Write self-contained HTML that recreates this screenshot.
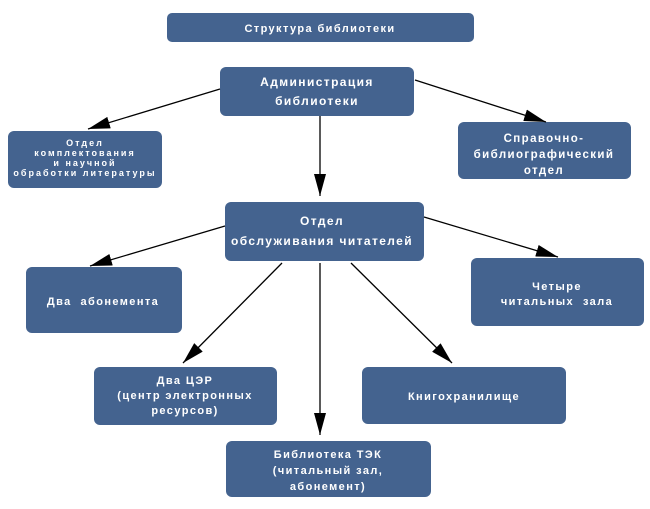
<!DOCTYPE html>
<html><head><meta charset="utf-8"><style>
html,body{margin:0;padding:0;background:#fff;width:650px;height:509px;overflow:hidden}
text{font-family:"Liberation Sans",Arial,sans-serif;font-weight:bold;fill:#fff;letter-spacing:1.4px;text-anchor:middle}
</style></head><body>
<svg width="650" height="509" viewBox="0 0 650 509" xmlns="http://www.w3.org/2000/svg">
<defs><marker id="a" viewBox="0 0 22 12" refX="22" refY="6" markerWidth="22" markerHeight="12" markerUnits="userSpaceOnUse" orient="auto"><path d="M0,0 L22,6 L0,12 z" fill="#000"/></marker></defs>
<g fill="#44638f">
<rect x="167" y="13" width="307" height="29" rx="5"/>
<rect x="220" y="67" width="194" height="49" rx="6"/>
<rect x="8" y="131" width="154" height="57" rx="6"/>
<rect x="458" y="122" width="173" height="57" rx="6"/>
<rect x="225" y="202" width="199" height="59" rx="6"/>
<rect x="26" y="267" width="156" height="66" rx="6"/>
<rect x="471" y="258" width="173" height="68" rx="6"/>
<rect x="94" y="367" width="183" height="58" rx="6"/>
<rect x="362" y="367" width="204" height="57" rx="6"/>
<rect x="226" y="441" width="205" height="56" rx="6"/>
</g>
<g stroke="#000" stroke-width="1.3" fill="none" marker-end="url(#a)">
<line x1="220" y1="89" x2="88" y2="129"/>
<line x1="415" y1="80" x2="546" y2="122"/>
<line x1="320" y1="116" x2="320" y2="196"/>
<line x1="225" y1="226" x2="90" y2="266"/>
<line x1="424" y1="217" x2="558" y2="257"/>
<line x1="282" y1="263" x2="183" y2="363"/>
<line x1="320" y1="263" x2="320" y2="435"/>
<line x1="351" y1="263" x2="452" y2="363"/>
</g>
<text x="320" y="32" font-size="11">Структура библиотеки</text>
<text x="317" y="86" font-size="12">Администрация</text>
<text x="317" y="105" font-size="12">библиотеки</text>
<text x="85" y="146" font-size="9" style="letter-spacing:2px">Отдел</text>
<text x="85" y="156" font-size="9" style="letter-spacing:2px">комплектования</text>
<text x="85" y="166" font-size="9" style="letter-spacing:2px">и научной</text>
<text x="85" y="176" font-size="9" style="letter-spacing:2px">обработки литературы</text>
<text x="544" y="142" font-size="11.5">Справочно-</text>
<text x="544" y="158" font-size="11.5">библиографический</text>
<text x="544" y="174" font-size="11.5">отдел</text>
<text x="322" y="225" font-size="12">Отдел</text>
<text x="322" y="245" font-size="12">обслуживания читателей</text>
<text x="103" y="305" font-size="11" xml:space="preserve">Два  абонемента</text>
<text x="557" y="290" font-size="11">Четыре</text>
<text x="557" y="305" font-size="11" xml:space="preserve">читальных  зала</text>
<text x="185" y="384" font-size="11">Два ЦЭР</text>
<text x="185" y="399" font-size="11">(центр электронных</text>
<text x="185" y="414" font-size="11">ресурсов)</text>
<text x="464" y="400" font-size="11">Книгохранилище</text>
<text x="328" y="458" font-size="11">Библиотека ТЭК</text>
<text x="328" y="474" font-size="11">(читальный зал,</text>
<text x="328" y="490" font-size="11">абонемент)</text>
</svg>
</body></html>
